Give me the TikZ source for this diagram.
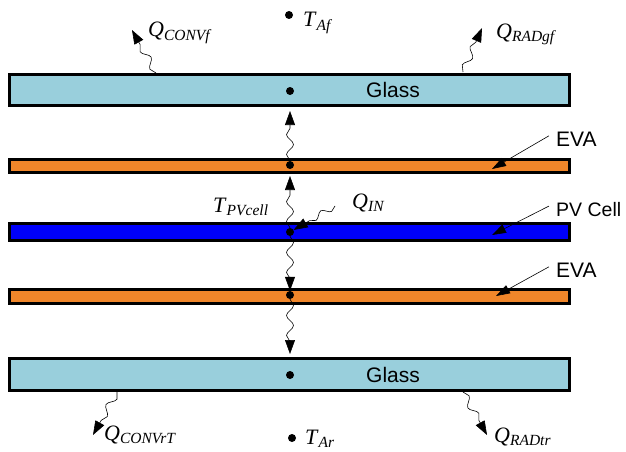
\documentclass[tikz,border=0pt]{standalone}
\usepackage{fontspec}
\setmainfont{Liberation Serif}
\setsansfont{Liberation Sans}
\usetikzlibrary{arrows.meta, decorations.pathmorphing, calc, positioning}

\definecolor{glassblue}{RGB}{153,207,220}
\definecolor{evaorange}{RGB}{240,134,42}
\definecolor{cellblue}{RGB}{0,0,250}

% nhãn dạng Q_{...}
\newcommand{\qlab}[2]{\textit{#1}\raisebox{-0.3ex}{\fontsize{15.5}{16}\selectfont\textit{#2}}}

\begin{document}
\begin{tikzpicture}[x=1pt, y=-1pt, >={Triangle[length=14pt,width=10pt]},
    layer/.style={draw, line width=3pt, minimum width=560pt, inner sep=0pt},
    dot/.style={circle, fill, inner sep=0pt, minimum size=8pt},
    heat/.style={->, line width=0.6pt, decorate, decoration={snake, amplitude=3.5pt, segment length=20pt, post length=12pt}},
    ptr/.style={-{Triangle[length=14pt,width=9pt]}, line width=0.6pt},
    lab/.style={font=\fontsize{22}{22}\selectfont, inner sep=0pt},
    tag/.style={font=\sffamily\fontsize{21}{21}\selectfont, inner sep=0pt}]
    \useasboundingbox (0,0) rectangle (626,452);

    % Các lớp
    \node[layer, fill=glassblue, minimum height=31pt] (glassTop) at (289.5,90) {};
    \node[layer, fill=evaorange, minimum height=13pt] (evaTop) at (289.5,166) {};
    \node[layer, fill=cellblue, minimum height=17pt] (pvCell) at (289.5,232) {};
    \node[layer, fill=evaorange, minimum height=14pt] (evaBot) at (289.5,296.5) {};
    \node[layer, fill=glassblue, minimum height=32pt] (glassBot) at (289.5,374.5) {};

    \node[tag] (glassTopTxt) at (393,90) {Glass};
    \node[tag] (glassBotTxt) at (393,375) {Glass};

    % Các điểm nhiệt độ
    \node[dot] (dAf) at (289,15) {};
    \node[dot] (dGlassTop) at (290,91) {};
    \node[dot] (dEvaTop) at (290,165) {};
    \node[dot] (dPv) at (290,232) {};
    \node[dot] (dEvaBot) at (290,295) {};
    \node[dot] (dGlassBot) at (290,375) {};
    \node[dot] (dAr) at (292,438) {};

    \node[lab, anchor=base west] (tAf) at (303,27) {\qlab{T}{Af}};
    \node[lab, anchor=base west] (tAr) at (305,444) {\qlab{T}{Ar}};
    \node[lab, anchor=base west] (tPv) at (213,212) {\qlab{T}{PVcell}};
    \node[lab, anchor=base west] (qIn) at (352,208) {\qlab{Q}{IN}};

    % Truyền nhiệt giữa các lớp
    \draw[heat] (dEvaTop) -- ($(dEvaTop |- glassTop.south)+(0,4)$);
    \draw[heat] (dPv) -- ($(dPv |- evaTop.south)+(0,2)$);
    \draw[heat] (dPv) -- (dEvaBot);
    \draw[heat] (dEvaBot) -- ($(dEvaBot |- glassBot.north)+(0,-3)$);
    \coordinate (qInStart) at (335,206);
    \draw[heat, decoration={segment length=18pt, amplitude=3pt, post length=12pt}] (qInStart) -- (dPv);

    % Trao đổi với môi trường
    \coordinate (cfStart) at (156,73);
    \coordinate (cfEnd) at (132,30);
    \draw[heat] (cfStart) -- (cfEnd);
    \node[lab, anchor=base west] (qConvF) at (148,37) {\qlab{Q}{CONVf}};

    \coordinate (rgStart) at (463,72);
    \coordinate (rgEnd) at (482,28);
    \draw[heat] (rgStart) -- (rgEnd);
    \node[lab, anchor=base west] (qRadGf) at (496,38) {\qlab{Q}{RADgf}};

    \coordinate (crStart) at (117,392);
    \coordinate (crEnd) at (93,435);
    \draw[heat] (crStart) -- (crEnd);
    \node[lab, anchor=base west] (qConvR) at (104,440) {\qlab{Q}{CONVrT}};

    \coordinate (rtStart) at (463,392);
    \coordinate (rtEnd) at (487,435);
    \draw[heat] (rtStart) -- (rtEnd);
    \node[lab, anchor=base west] (qRadT) at (494,442) {\qlab{Q}{RADtr}};

    % Chú thích vật liệu
    \node[tag, anchor=base west] (evaTopTxt) at (556,146) {EVA};
    \node[tag, anchor=base west, font=\sffamily\fontsize{19.5}{20}\selectfont] (pvTxt) at (556,216) {PV Cell};
    \node[tag, anchor=base west] (evaBotTxt) at (556,277) {EVA};
    \coordinate (eTip) at (492,169);
    \coordinate (pTip) at (492,235);
    \coordinate (bTip) at (496,296);
    \draw[ptr] ($(evaTopTxt.west)+(-7,-3)$) -- (eTip);
    \draw[ptr] ($(pvTxt.west)+(-7,-3)$) -- (pTip);
    \draw[ptr] ($(evaBotTxt.west)+(-7,-3)$) -- (bTip);
\end{tikzpicture}
\end{document}
